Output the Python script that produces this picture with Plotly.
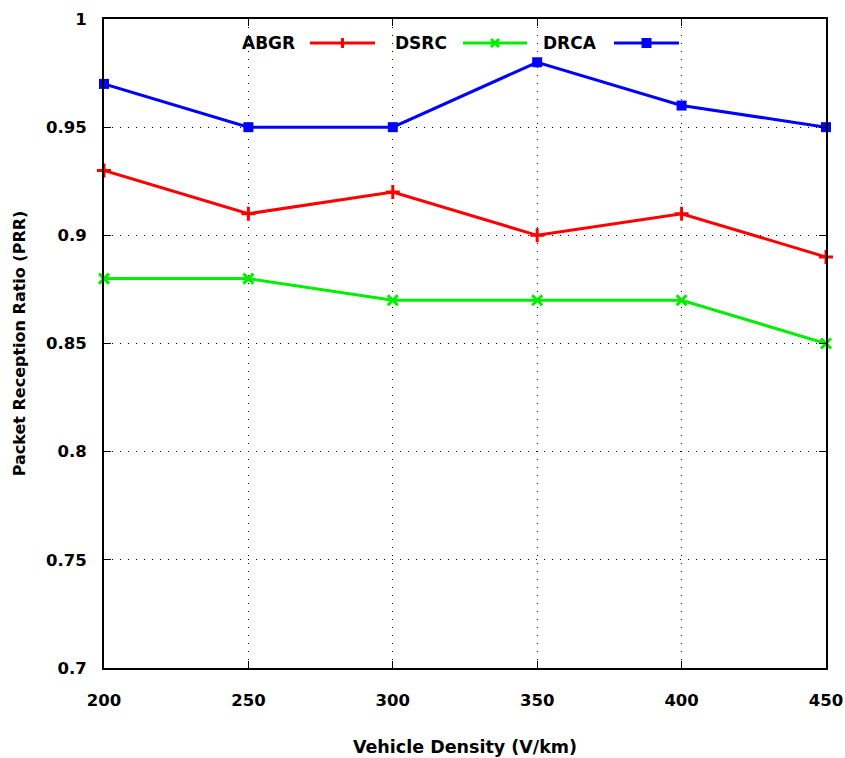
import plotly.graph_objects as go

density = [200, 250, 300, 350, 400, 450]
abgr = [0.93, 0.91, 0.92, 0.90, 0.91, 0.89]
dsrc = [0.88, 0.88, 0.87, 0.87, 0.87, 0.85]
drca = [0.97, 0.95, 0.95, 0.98, 0.96, 0.95]

names = ["ABGR", "DSRC", "DRCA"]
colors = ["#ff0000", "#00ee00", "#0000ff"]
symbols = ["cross-thin", "x-thin", "square"]
series = [abgr, dsrc, drca]

W, H = 845, 758
L, R, T, B = 104, 19, 19, 90
pw, ph = W - L - R, H - T - B

fig = go.Figure()
for name, ys, c, s in zip(names, series, colors, symbols):
    if s == "square":
        marker = dict(symbol=s, size=10, color=c)
    else:
        marker = dict(symbol=s, size=10, color=c, line=dict(color=c, width=3))
    fig.add_trace(go.Scatter(x=density, y=ys, mode="lines+markers", name=name,
                             line=dict(color=c, width=3), marker=marker,
                             showlegend=False, cliponaxis=False))

def px(x):
    return (x - L) / pw

def py(y):
    return (H - B - y) / ph

# custom legend: text then line sample
legend_items = [(297, 310, 375), (449, 463, 527), (599, 614, 679)]
shapes = []
annotations = []
ly = 43
for (tx, x0, x1), name, c, s in zip(legend_items, names, colors, symbols):
    annotations.append(dict(x=px(tx), y=py(ly), xref="paper", yref="paper", text=name,
                            showarrow=False, xanchor="right", yanchor="middle",
                            font=dict(family="DejaVu Sans", size=17, color="black", weight="bold")))
    shapes.append(dict(type="line", xref="paper", yref="paper", x0=px(x0), x1=px(x1),
                       y0=py(ly), y1=py(ly), line=dict(color=c, width=3)))
    cx = (x0 + x1) / 2
    if s == "square":
        shapes.append(dict(type="rect", xref="paper", yref="paper", x0=px(cx - 5), x1=px(cx + 5),
                           y0=py(ly - 5), y1=py(ly + 5), fillcolor=c, line=dict(color=c, width=0)))
    elif s == "cross-thin":
        shapes.append(dict(type="line", xref="paper", yref="paper", x0=px(cx), x1=px(cx),
                           y0=py(ly - 5), y1=py(ly + 5), line=dict(color=c, width=3)))
    else:
        shapes.append(dict(type="line", xref="paper", yref="paper", x0=px(cx - 4), x1=px(cx + 4),
                           y0=py(ly - 4), y1=py(ly + 4), line=dict(color=c, width=3)))
        shapes.append(dict(type="line", xref="paper", yref="paper", x0=px(cx - 4), x1=px(cx + 4),
                           y0=py(ly + 4), y1=py(ly - 4), line=dict(color=c, width=3)))

font_t = dict(family="DejaVu Sans", size=16.5, color="black", weight="bold")
font_x = dict(family="DejaVu Sans", size=17.5, color="black", weight="bold")
font_y = dict(family="DejaVu Sans", size=16, color="black", weight="bold")

fig.update_layout(
    width=W, height=H,
    margin=dict(l=L, r=R, t=T, b=B),
    paper_bgcolor="white", plot_bgcolor="white",
    shapes=shapes, annotations=annotations,
    xaxis=dict(range=[200, 450], tickvals=[200, 250, 300, 350, 400, 450],
               ticks="inside", ticklen=7, tickcolor="black", tickwidth=1,
               showline=True, linecolor="black", linewidth=2, mirror="ticks",
               showgrid=True, gridcolor="black", gridwidth=1, griddash="1px,7px",
               zeroline=False, tickfont=font_t, ticklabelstandoff=16, automargin=False,
               title=dict(text="Vehicle Density (V/km)", font=font_x, standoff=32)),
    yaxis=dict(range=[0.7, 1.0], tickvals=[0.7, 0.75, 0.8, 0.85, 0.9, 0.95, 1.0],
               ticktext=["0.7", "0.75", "0.8", "0.85", "0.9", "0.95", "1"],
               ticks="inside", ticklen=7, tickcolor="black", tickwidth=1,
               showline=True, linecolor="black", linewidth=2, mirror="ticks",
               showgrid=True, gridcolor="black", gridwidth=1, griddash="1px,7px",
               zeroline=False, tickfont=font_t, ticklabelstandoff=12, automargin=False,
               title=dict(text="Packet Reception Ratio (PRR)", font=font_y, standoff=16)),
)

fig.write_html("out.html", config={"displayModeBar": False},
               post_script="document.body.style.margin='0';document.body.style.overflow='hidden';")
